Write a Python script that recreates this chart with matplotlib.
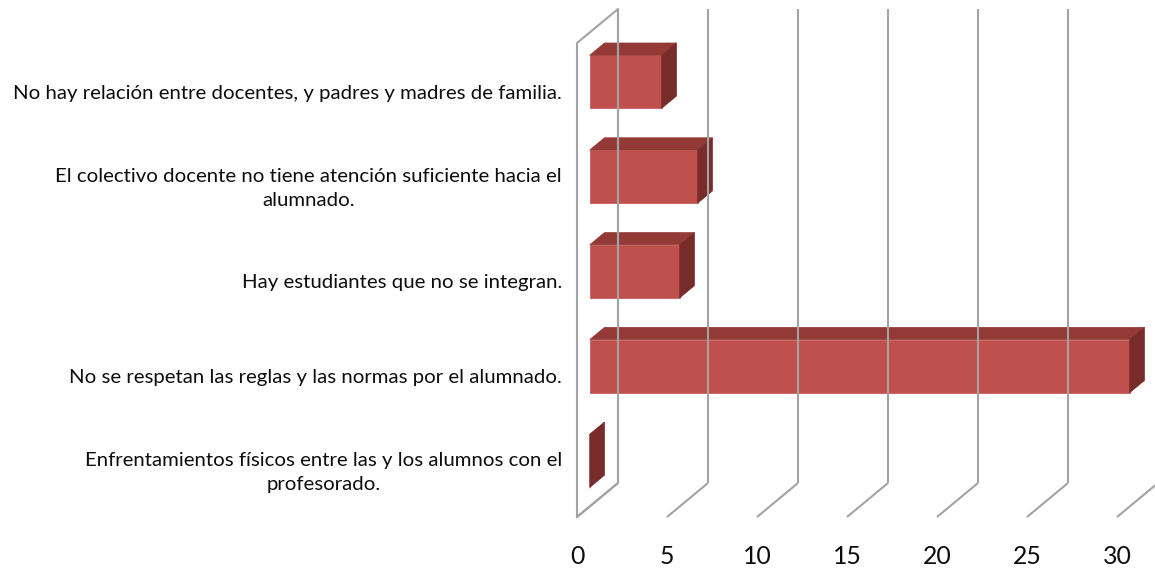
import matplotlib
matplotlib.use("Agg")
import matplotlib.pyplot as plt
from matplotlib.patches import Polygon

# ---- data ----
categories = [
    "Enfrentamientos físicos entre las y los alumnos con el\nprofesorado.",
    "No se respetan las reglas y las normas por el alumnado.",
    "Hay estudiantes que no se integran.",
    "El colectivo docente no tiene atención suficiente hacia el\nalumnado.",
    "No hay relación entre docentes, y padres y madres de familia.",
]
values = [0, 30, 5, 6, 4]
ticks = [0, 5, 10, 15, 20, 25, 30]
tick_labels = ["0", "5", "10", "15", "20", "25", "30"]

# ---- style ----
FRONT = "#C0504D"
TOP = "#933A37"
SIDE = "#772C2A"
GRID = "#A3A3A3"
TEXT = "#0d0d0d"
FONT = ["Lato", "DejaVu Sans"]

W, H = 1155, 571
fig = plt.figure(figsize=(W / 100, H / 100), dpi=100)
x0_px, ppu_x = 577, 18.0
y0_px, ppu_y = 517, 94.8
ax_left_px = x0_px - ppu_x
ax = fig.add_axes([ax_left_px / W, 0, 1 - ax_left_px / W, 1])
ax.set_xlim(-1, (W - x0_px) / ppu_x)
ax.set_ylim(-(H - y0_px) / ppu_y, y0_px / ppu_y)
ax.axis("off")

DX = 41 / ppu_x
DY = 34 / ppu_y
n = len(categories)


def P(v, y, d):
    return (v + d * DX, y + d * DY)


# back wall gridlines and floor diagonals
for t in ticks:
    a = P(t, 0, 1)
    b = P(t, n, 1)
    ax.plot([a[0], b[0]], [a[1], b[1]], color=GRID, lw=1.5, solid_capstyle="butt")
    c = P(t, 0, 0)
    ax.plot([c[0], a[0]], [c[1], a[1]], color=GRID, lw=1.5, solid_capstyle="butt")

# left side wall outline
pts = [P(0, 0, 0), P(0, n, 0), P(0, n, 1), P(0, 0, 1), P(0, 0, 0)]
ax.plot([p[0] for p in pts], [p[1] for p in pts], color=GRID, lw=1.5)

# bars
d0, d1 = 0.31, 0.67
h = 0.28
for i, val in enumerate(values):
    yc = i + 0.5 - 0.02
    lo, hi = yc - h, yc + h
    front = [P(0, lo, d0), P(val, lo, d0), P(val, hi, d0), P(0, hi, d0)]
    top = [P(0, hi, d0), P(val, hi, d0), P(val, hi, d1), P(0, hi, d1)]
    side = [P(val, lo, d0), P(val, lo, d1), P(val, hi, d1), P(val, hi, d0)]
    for poly, col in ((front, FRONT), (top, TOP), (side, SIDE)):
        ax.add_patch(Polygon(poly, closed=True, facecolor=col, edgecolor=col, lw=0.5))

# category labels, sized so the longest single line spans ~550 px
renderer = fig.canvas.get_renderer()
probe = fig.text(0, 0, categories[-1], fontsize=14, family=FONT)
wpx = probe.get_window_extent(renderer).width
probe.remove()
label_fs = 14 * 550 / wpx

for i, lab in enumerate(categories):
    ax.text(-15 / ppu_x, i + 0.5 - 0.03, lab, ha="right", va="center",
            multialignment="center", fontsize=label_fs, color=TEXT, family=FONT,
            clip_on=False, linespacing=1.5)

# value tick labels
for t, lab in zip(ticks, tick_labels):
    ax.text(t, -40 / ppu_y, lab, ha="center", va="center", fontsize=label_fs * 1.22,
            color=TEXT, family=FONT, clip_on=False)

fig.savefig("out.png", dpi=100)
